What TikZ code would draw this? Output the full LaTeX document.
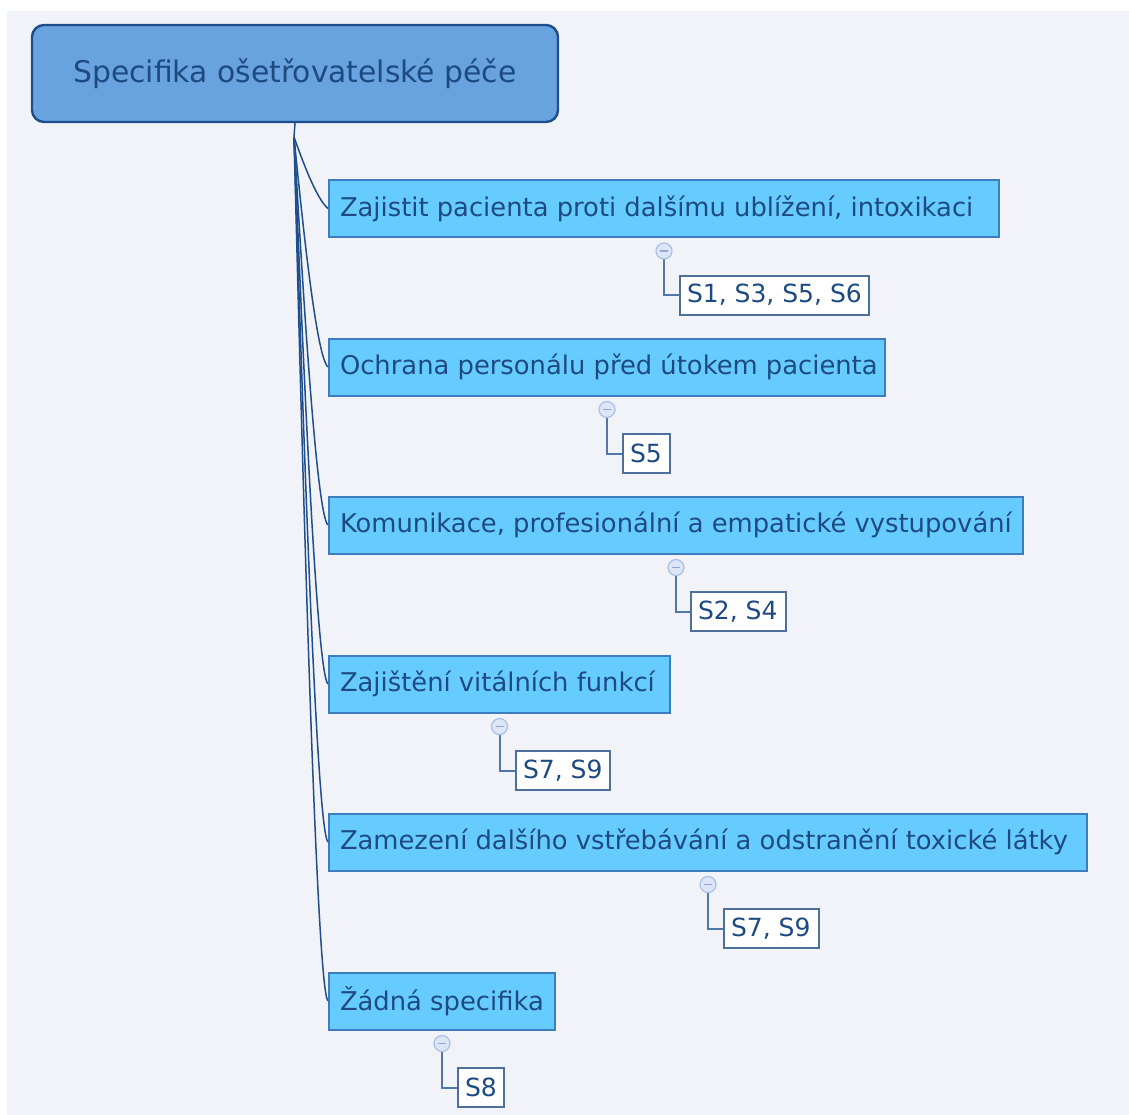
\documentclass[tikz,border=0pt]{standalone}
\usepackage{fontspec}
\setmainfont{DejaVu Sans}
\usetikzlibrary{calc}
\definecolor{bg}{HTML}{F2F3F8}
\definecolor{rootfill}{HTML}{68A2DF}
\definecolor{rootline}{HTML}{1F4E8C}
\definecolor{navy}{HTML}{1E4A82}
\definecolor{childfill}{HTML}{66CCFF}
\definecolor{childline}{HTML}{3C7DC0}
\definecolor{gcline}{HTML}{4C6F9C}
\definecolor{edgecol}{HTML}{1F4E8C}
\definecolor{circfill}{HTML}{DCE6F7}
\definecolor{circline}{HTML}{A9C1E9}
\definecolor{gcconn}{HTML}{4F77A8}
\newcommand{\lbox}[2]{\makebox[#1][l]{#2}}
\tikzset{
  rootbox/.style={draw=rootline, line width=2.4pt, fill=rootfill, rounded corners=12pt,
    minimum width=526pt, minimum height=97pt, inner sep=0pt,
    font=\fontsize{29.8}{32}\selectfont, text=navy},
  childbox/.style={draw=childline, line width=2pt, fill=childfill,
    minimum height=57pt, inner xsep=11pt, inner ysep=0pt, anchor=west,
    font=\fontsize{25.8}{28}\selectfont, text=navy},
  gcbox/.style={draw=gcline, line width=2pt, fill=white,
    minimum height=39pt, inner xsep=7pt, inner ysep=0pt, anchor=west,
    font=\fontsize{25}{27}\selectfont, text=navy},
  togg/.style={circle, draw=circline, line width=1.2pt, fill=circfill,
    minimum size=16pt, inner sep=0pt},
  edge/.style={draw=edgecol, line width=1.5pt},
  gcedge/.style={draw=gcconn, line width=2pt},
}
\begin{document}
\begin{tikzpicture}[x=1pt,y=-1pt]
\useasboundingbox (0,0) rectangle (1129,1115);
\fill[bg] (7,11) rectangle (1129,1115);

\node[rootbox] (root) at (295,73.5) {Specifika ošetřovatelské péče};
\coordinate (hub) at (294,137);

\node[childbox] (c1) at (328,208.5) {\lbox{648pt}{Zajistit pacienta proti dalšímu ublížení, intoxikaci}};
\node[childbox] (c2) at (328,367) {\lbox{534pt}{Ochrana personálu před útokem pacienta}};
\node[childbox] (c3) at (328,525) {\lbox{672pt}{Komunikace, profesionální a empatické vystupování}};
\node[childbox] (c4) at (328,684) {\lbox{319pt}{Zajištění vitálních funkcí}};
\node[childbox] (c5) at (328,842) {\lbox{736pt}{Zamezení dalšího vstřebávání a odstranění toxické látky}};
\node[childbox] (c6) at (328,1001) {\lbox{204pt}{Žádná specifika}};

\node[gcbox] (g1) at (679,295) {\lbox{175pt}{S1, S3, S5, S6}};
\node[gcbox] (g2) at (622,453.5) {\lbox{33pt}{S5}};
\node[gcbox] (g3) at (690,611.5) {\lbox{81pt}{S2, S4}};
\node[gcbox] (g4) at (515,770.5) {\lbox{80pt}{S7, S9}};
\node[gcbox] (g5) at (723,928.5) {\lbox{81pt}{S7, S9}};
\node[gcbox] (g6) at (457,1087.5) {\lbox{32pt}{S8}};

\draw[edge] (root.south) -- (hub);
\foreach \n in {c1,c2,c3,c4,c5,c6}{
  \path (\n.west) ++(-12,-10) coordinate (\n k);
  \draw[edge] (hub) .. controls ($(hub)!0.35!(\n k)$) and (\n k) .. (\n.west);
}

\foreach \c/\g in {c1/g1,c2/g2,c3/g3,c4/g4,c5/g5,c6/g6}{
  \path (\c.south) ++(0,13) coordinate (\c t);
  \draw[gcedge] (\c t) |- (\g.west);
  \node[togg] (\c tg) at (\c t) {};
  \draw[circline!70!gcline, line width=1.1pt] ($(\c tg.center)+(-4,0)$) -- ($(\c tg.center)+(4,0)$);
}
\end{tikzpicture}
\end{document}
